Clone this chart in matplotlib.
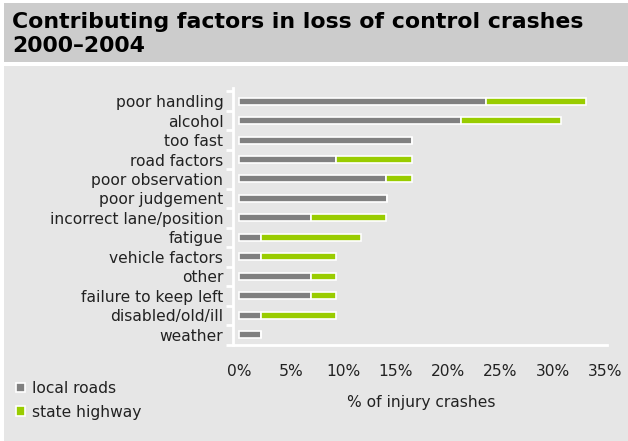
import matplotlib.pyplot as plt
from matplotlib.patches import Rectangle, Patch

# Data (% of injury crashes)
factors = ['poor handling', 'alcohol', 'too fast', 'road factors', 'poor observation',
           'poor judgement', 'incorrect lane/position', 'fatigue', 'vehicle factors',
           'other', 'failure to keep left', 'disabled/old/ill', 'weather']
local_roads = [23.6, 21.2, 16.5, 9.3, 14.0, 14.1, 6.9, 2.1, 2.1, 6.9, 6.9, 2.1, 2.1]
state_highway = [9.6, 9.6, 0.0, 7.2, 2.5, 0.0, 7.1, 9.6, 7.2, 2.4, 2.4, 7.2, 0.0]
xticks = [0, 5, 10, 15, 20, 25, 30, 35]

gray = '#808080'
green = '#99cc00'
panel = '#e6e6e6'
fs = 11.2

fig = plt.figure(figsize=(6.28, 4.41), dpi=100)
fig.patch.set_facecolor('white')

# title band and body panel
fig.patches.append(Rectangle((4 / 628, 1 - 62 / 441), 1, 59 / 441, transform=fig.transFigure,
                             facecolor='#cccccc', edgecolor='none', zorder=-2))
fig.patches.append(Rectangle((4 / 628, 0), 1, 1 - 66 / 441, transform=fig.transFigure,
                             facecolor=panel, edgecolor='none', zorder=-2))
fig.text(12 / 628, 1 - 34 / 441, 'Contributing factors in loss of control crashes\n2000\u20132004',
         fontsize=15.8, fontweight='bold', va='center', ha='left', linespacing=1.3)

ax = fig.add_axes([233 / 628, 1 - 345 / 441, (607 - 233) / 628, (345 - 88) / 441])
ax.set_facecolor(panel)

y = list(range(len(factors)))
ax.barh(y, local_roads, height=0.36, color=gray, edgecolor='white', linewidth=1.2,
        label='local roads', zorder=3)
ax.barh(y, state_highway, left=local_roads, height=0.36, color=green, edgecolor='white',
        linewidth=1.2, label='state highway', zorder=3)

ax.set_xlim(-0.6, 35.2)
ax.set_ylim(12.52, -0.67)
ax.set_xticks(xticks)
ax.set_xticklabels([f'{t}%' for t in xticks], fontsize=fs, color='#222222')
ax.set_yticks(y)
ax.set_yticklabels(factors, fontsize=fs, color='#222222')
ax.set_yticks([i - 0.5 for i in range(len(factors) + 1)], minor=True)
ax.tick_params(axis='y', which='major', length=0, pad=7)
ax.tick_params(axis='y', which='minor', length=5, width=2, color='white')
ax.tick_params(axis='x', length=0, pad=14)

for s in ['top', 'right']:
    ax.spines[s].set_visible(False)
for s in ['left', 'bottom']:
    ax.spines[s].set_color('white')
    ax.spines[s].set_linewidth(2)

fig.text(421 / 628, 1 - 403 / 441, '% of injury crashes', fontsize=fs, ha='center', va='center',
         color='#222222')

handles = [Patch(facecolor=gray, edgecolor='white', linewidth=1.2),
           Patch(facecolor=green, edgecolor='white', linewidth=1.2)]
fig.legend(handles, ['local roads', 'state highway'], loc='upper left',
           bbox_to_anchor=(16 / 628, 1 - 381 / 441), frameon=False, fontsize=fs,
           handlelength=0.6, handleheight=0.6, handletextpad=0.45, labelspacing=0.55,
           borderaxespad=0, borderpad=0, labelcolor='#222222')

fig.savefig('out.png', dpi=100, facecolor=fig.get_facecolor())
